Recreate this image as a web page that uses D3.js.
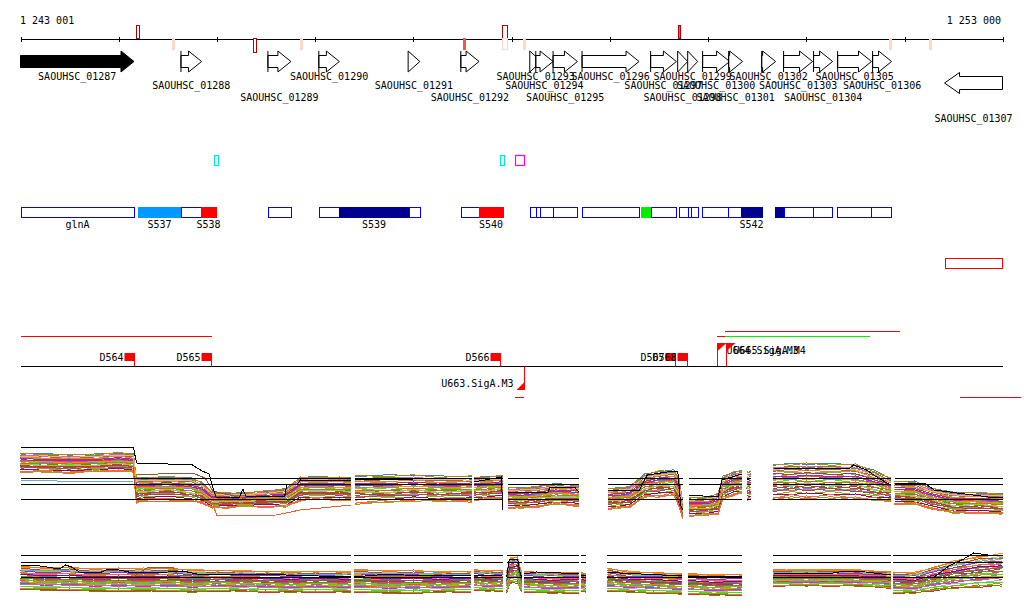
<!DOCTYPE html>
<html><head><meta charset="utf-8">
<script src="https://cdn.jsdelivr.net/npm/d3@7"></script>
<style>
html,body{margin:0;padding:0;background:#fff;}
text{font-family:"DejaVu Sans Mono",monospace;font-size:10px;fill:#000;}
</style></head>
<body><svg id="c" width="1024" height="611"></svg>
<script>
// ---------- DATA ----------
const genomeStart = 1243001, genomeEnd = 1253000;
const tickValues = [1243001,1244000,1245000,1246000,1247000,1248000,1249000,1250000,1251000,1252000,1253000];
const startLabel = "1 243 001", endLabel = "1 253 000";

// axis features: [pos, width(bp), side, kind]
const axisFeatures = [
  [1244179, 30, "up", "dark"],
  [1244542, 20, "down", "pale"],
  [1245366, 30, "down", "dark"],
  [1245844, 20, "down", "pale"],
  [1247502, 20, "down", "solid"],
  [1247902, 50, "up", "dark"],
  [1247902, 50, "down", "paleBox"],
  [1248116, 20, "down", "pale"],
  [1249692, 20, "up", "darkFill"],
  [1251838, 20, "down", "pale"],
  [1252245, 20, "down", "pale"]
];

const geneNames  = ["SAOUHSC_01287","SAOUHSC_01288","SAOUHSC_01289","SAOUHSC_01290","SAOUHSC_01291","SAOUHSC_01292","SAOUHSC_01293","SAOUHSC_01294","SAOUHSC_01295","SAOUHSC_01296","SAOUHSC_01297","SAOUHSC_01298","SAOUHSC_01299","SAOUHSC_01300","SAOUHSC_01301","SAOUHSC_01302","SAOUHSC_01303","SAOUHSC_01304","SAOUHSC_01305","SAOUHSC_01306","SAOUHSC_01307"];
const geneStarts = [1243001,1244634,1245519,1246037,1246946,1247482,1248184,1248245,1248421,1248716,1249414,1249689,1249791,1249943,1250208,1250544,1250767,1251072,1251317,1251673,1252405];
const geneEnds   = [1244156,1244844,1245753,1246246,1247065,1247668,1248303,1248421,1248669,1249296,1249676,1249791,1249893,1250218,1250350,1250686,1251062,1251266,1251662,1251866,1252995];
const geneStrand = ["+","+","+","+","+","+","+","+","+","+","+","+","+","+","+","+","+","+","+","+","-"];

// small boxes track: [start, end, color]
const boxFeatures = [
  [1244972, 1245012, "#00e5ee"],
  [1247886, 1247922, "#00e5ee"],
  [1248038, 1248125, "#ff00ff"]
];

// transcript segments
const segStarts = [1243001,1244196,1244634,1244840,1245519,1246040,1246244,1246950,1247485,1247672,1248184,1248245,1248285,1248421,1248713,1249320,1249414,1249699,1249794,1249821,1249940,1250205,1250333,1250676,1250767,1251065,1251314,1251652];
const segEnds   = [1244152,1244634,1244840,1244990,1245749,1246244,1246950,1247062,1247672,1247916,1248245,1248285,1248421,1248665,1249296,1249414,1249672,1249794,1249821,1249893,1250205,1250333,1250544,1250767,1251065,1251263,1251652,1251856];
const segFills  = ["#fff","#0099ff","#fff","#ff0000","#fff","#fff","#000090","#fff","#fff","#ff0000","#fff","#fff","#fff","#fff","#fff","#00ee00","#fff","#fff","#fff","#fff","#fff","#fff","#000090","#000090","#fff","#fff","#fff","#fff"];
const segLabels = ["glnA","S537","","S538","","","S539","","","S540","","","","","","","","","","","","","S542","","","","",""];
const redBox = [1252405, 1252988];

// horizontal feature lines: [start, end, row, color]
const hLines = [
  [1243001, 1244946, "b", "#ff0000"],
  [1250170, 1251954, "a", "#ff0000"],
  [1250166, 1251642, "b", "#00ee00"],
  [1250086, 1250166, "b", "#ff0000"],
  [1248031, 1248126, "c", "#ff0000"],
  [1252565, 1253180, "c", "#ff0000"]
];
const dNames = ["D564","D565","D566","D567","D568"];
const dPos   = [1244156,1244939,1247878,1249658,1249781];
const uNames = ["U664.SigA.M3","U665.SigA.M4","U663.SigA.M3"];
const uPos   = [1250089,1250177,1248126];
const uStrand= ["+","+","-"];

// lower panels: segments
const p1Segs = [[1243001,1246363],[1246404,1247594],[1247614,1247909],[1247960,1248682],[1248977,1249740],[1249801,1250340],[1250391,1250432],[1250655,1251856],[1251896,1252995]];
const p2Segs = [[1243001,1246363],[1246394,1247584],[1247614,1247909],[1247950,1248104],[1248128,1248680],[1248710,1248753],[1248974,1249737],[1249798,1250343],[1250658,1251856],[1251876,1252995]];
const p1Refs = [9.8, 8.6, 5.6];
const p2Refs = [9.0, 7.6, 4.6];

// profile knots: [pos, centre, half-spread]
const p1Profile = [
  [1243001,12.8,1.6],[1243250,12.8,1.6],[1243500,12.6,1.6],[1243750,12.8,1.5],[1244000,13.0,1.6],[1244150,12.8,1.6],
  [1244180,7.4,2.2],[1244250,7.6,2.0],[1244500,7.8,2.0],[1244750,7.4,2.0],[1244850,6.8,1.8],[1244950,5.4,1.4],
  [1245100,5.3,1.3],[1245250,5.4,1.2],[1245500,5.6,1.4],[1245700,5.8,1.6],[1245850,7.6,2.0],[1246000,7.8,2.0],[1246250,7.6,2.0],[1246363,7.6,2.0],
  [1246404,7.4,2.4],[1246750,7.6,2.4],[1247000,7.8,2.2],[1247250,7.6,2.2],[1247594,7.6,2.2],
  [1247614,7.6,2.0],[1247750,7.8,2.0],[1247909,8.0,2.0],
  [1247960,5.8,1.8],[1248100,5.8,1.8],[1248250,6.0,1.8],[1248450,6.6,1.8],[1248682,6.2,1.8],
  [1248977,5.6,1.8],[1249100,5.8,1.8],[1249200,6.0,1.8],[1249350,8.2,2.0],[1249500,8.6,2.2],[1249650,8.8,2.2],[1249700,7.0,2.4],[1249740,3.4,1.6],
  [1249801,4.0,1.6],[1250000,4.2,1.6],[1250100,4.6,1.8],[1250150,7.8,2.0],[1250250,8.6,2.0],[1250340,9.0,2.0],
  [1250391,8.2,2.4],[1250432,8.2,2.4],
  [1250655,9.0,3.0],[1250850,9.2,3.0],[1251000,9.2,3.0],[1251250,9.2,3.0],[1251500,9.0,3.0],[1251700,8.2,2.6],[1251856,7.4,2.0],
  [1251896,6.8,2.0],[1252100,6.8,2.0],[1252250,5.8,1.8],[1252500,4.8,1.8],[1252750,4.8,1.8],[1252995,4.6,1.8]
];
const p2Profile = [
  [1243001,4.4,2.0],[1243250,4.2,2.0],[1243500,4.2,2.0],[1243750,4.0,2.0],[1244000,4.0,2.0],[1244250,4.0,2.0],[1244500,4.0,2.0],
  [1244750,3.8,2.0],[1245000,3.8,1.8],[1245250,3.8,1.8],[1245500,3.6,1.8],[1245750,3.6,1.8],[1246000,3.6,1.8],[1246363,3.6,1.8],
  [1246394,3.8,2.0],[1246750,3.6,2.0],[1247000,3.6,2.0],[1247250,3.6,1.8],[1247584,3.6,1.8],
  [1247614,4.0,1.8],[1247750,3.8,1.8],[1247909,3.8,1.8],
  [1247950,3.6,1.8],[1247985,5.8,2.2],[1248060,6.0,2.2],[1248090,4.0,1.8],[1248104,3.6,1.6],
  [1248128,3.6,1.8],[1248400,3.4,1.8],[1248680,3.4,1.8],
  [1248710,3.6,1.6],[1248753,3.4,1.6],
  [1248974,4.0,2.0],[1249200,3.6,1.8],[1249450,3.4,1.8],[1249737,3.2,1.8],
  [1249798,3.2,1.8],[1250050,3.0,1.8],[1250343,3.0,1.8],
  [1250658,4.4,1.4],[1251000,4.4,1.4],[1251250,4.4,1.4],[1251500,4.4,1.4],[1251856,4.0,1.4],
  [1251876,3.4,1.8],[1252100,3.4,1.8],[1252300,4.2,2.0],[1252500,5.0,2.4],[1252750,5.6,2.6],[1252995,6.0,2.8]
];
// sample placement within the bundle (two alternating ranks per sample)
const rankA = [-1.2,-1.0,-0.85,-0.8,-0.6,-0.5,-0.45,-0.3,-0.25,-0.1,-0.05,0.0,0.15,0.2,0.3,0.35,0.5,0.55,0.7,0.75,0.9,1.0,1.1,1.2,-1.1,-0.15,0.4,0.8,-0.65,0.1];
const rankB = [-1.05,-1.15,-0.7,-0.9,-0.45,-0.65,-0.3,-0.5,-0.1,-0.3,0.1,-0.1,0.25,0.1,0.45,0.25,0.6,0.45,0.8,0.6,1.0,0.85,1.2,1.05,-0.9,-0.35,0.3,0.9,-0.5,0.2];
const sampleColors = ["#e8742a","#9aa020","#66cc00","#990077","#66aadd","#cc6699","#8b5a3c","#cc3333","#808000","#b8a8d0","#33ee00","#d2691e","#aa44aa","#5599cc","#c8a020","#e05050","#7cba3c","#b03060","#996655","#f08030","#6b8e23","#cc66cc","#4682b4","#b8860b","#ff6347","#9acd32","#8a2be2","#deb887","#a0522d","#ff8c00"];

// distinctive individual profiles
const p1Top = [[1243001,16],[1244150,16],[1244165,14.4],[1244185,12.8],[1244500,12.6],[1244750,12.4],[1244850,11.2],[1244920,10.6],[1244960,7.8],[1244990,6.0],[1245230,6.0],[1245264,7.6],[1245295,6.2],[1245690,6.2],[1245712,8.4],[1245820,8.6],[1245850,9.4],[1246363,9.2],
  [1246404,9.4],[1247000,9.6],[1247594,9.8],
  [1247614,9.0],[1247895,10.0],[1247909,3.4],
  [1247960,7.0],[1248370,7.0],[1248390,8.0],[1248640,8.0],[1248682,7.0],
  [1248977,7.4],[1249300,7.4],[1249380,10.4],[1249650,11.2],[1249690,11.2],[1249720,4.4],[1249740,3.4],
  [1249801,6.4],[1250100,6.0],[1250140,9.4],[1250340,10.6],
  [1250391,9.4],[1250432,9.8],
  [1250655,11.8],[1251430,11.6],[1251480,12.4],[1251610,11.4],[1251730,9.8],[1251856,8.4],
  [1251896,8.8],[1252200,8.8],[1252300,7.4],[1252850,6.0],[1252995,5.8]];
const p1Brown = [[1244185,10.4],[1244400,10.6],[1244750,10.8],[1244880,9.8],[1244960,7.2],[1245300,5.6],[1245700,4.8],[1245850,6.8],[1246363,6.6]];
const p1Low = [[1244185,5.2],[1244950,5.0],[1245000,2.2],[1245600,2.4],[1245850,3.4],[1246363,4.4]];
const p1Blue = [[1243001,9.4],[1243372,9.2],[1244150,9.2]];
const p2Top = [[1243001,7.0],[1243200,6.8],[1243400,6.2],[1243460,7.0],[1243520,6.6],[1243600,5.6],[1243800,5.4],[1243900,6.2],[1244000,6.0],[1244150,5.4],[1244500,5.6],[1244650,5.8],[1244800,5.2],[1245000,5.2],[1245700,5.0],[1246363,4.6],
  [1246394,4.6],[1246750,5.2],[1246900,5.0],[1247584,4.8],
  [1247614,4.8],[1247909,5.0],
  [1247950,4.6],[1247975,8.2],[1248060,8.2],[1248090,5.0],[1248104,4.6],
  [1248128,5.2],[1248250,5.6],[1248500,5.4],[1248680,5.2],
  [1248710,5.0],[1248753,5.0],
  [1248974,5.6],[1249100,5.4],[1249737,4.8],
  [1249798,4.8],[1250343,4.8],
  [1250658,5.4],[1251200,5.2],[1251400,5.8],[1251600,5.6],[1251856,5.0],
  [1251876,4.6],[1252300,4.6],[1252450,6.8],[1252600,8.2],[1252700,9.4],[1252850,9.0],[1252995,8.8]];
const p2Brown = [[1244150,4.6],[1244300,6.6],[1244550,6.6],[1244600,5.0],[1245000,4.4]];

// ---------- DRAW ----------
const svg = d3.select("#c");
const x = d3.scaleLinear().domain([genomeStart, genomeEnd]).range([20.5, 1003]);

const axY = 38.5;
svg.append("g").attr("transform",`translate(0,${axY})`)
  .call(d3.axisBottom(x).tickValues(tickValues).tickSize(3).tickSizeOuter(0).tickFormat(""))
  .call(g=>g.selectAll("line,path").attr("stroke","#000").attr("shape-rendering","crispEdges"));
svg.append("g").attr("transform",`translate(0,${axY})`)
  .call(d3.axisTop(x).tickValues(tickValues).tickSize(2).tickSizeOuter(0).tickFormat(""))
  .call(g=>g.select(".domain").remove())
  .call(g=>g.selectAll("line").attr("stroke","#000").attr("shape-rendering","crispEdges"));
svg.append("text").attr("x",20).attr("y",24).text(startLabel);
svg.append("text").attr("x",1001).attr("y",24).attr("text-anchor","end").text(endLabel);

axisFeatures.forEach(f=>{
  const x0 = Math.round(x(f[0])), w = Math.max(2, Math.round(x(f[0]+f[1]) - x(f[0])));
  let y0, h;
  if (f[2]==="up") { y0 = 25; h = 13; } else { y0 = 38; h = (f[3]==="dark"?14:11); }
  const r = svg.append("rect").attr("x",x0+0.5).attr("y",y0+0.5).attr("width",w).attr("height",h).attr("shape-rendering","crispEdges");
  if (f[3]==="dark") r.attr("fill","#fff").attr("stroke","#b00000");
  else if (f[3]==="darkFill") r.attr("fill","#e06060").attr("stroke","#b00000");
  else if (f[3]==="solid") r.attr("fill","#f05a3c").attr("stroke","#f05a3c");
  else if (f[3]==="paleBox") r.attr("fill","#fff").attr("stroke","#fbd8cc");
  else r.attr("fill","#fbd8cc").attr("stroke","#fbd8cc");
});

// genes
const rowBase = [79.5, 88.5, 100.5];
geneNames.forEach((name,i)=>{
  const x0 = x(geneStarts[i]), x1 = x(geneEnds[i]);
  const len = x1 - x0;
  const filled = i===0;
  const g = svg.append("g");
  let pts;
  if (geneStrand[i]==="+") {
    const yc = 61.5, hl = Math.min(13, len);
    const xh = x1 - hl;
    if (len <= 13) pts = [[x0,51],[x1,yc],[x0,72]];
    else pts = [[x0,55.5],[xh,55.5],[xh,51],[x1,yc],[xh,72],[xh,67.5],[x0,67.5]];
    g.append("polygon").attr("points",pts.map(p=>p.join(",")).join(" "))
      .attr("fill",filled?"#000":"#fff").attr("stroke","#000");
    if (!filled && len>13) g.append("line").attr("x1",x0).attr("x2",x0).attr("y1",51).attr("y2",72).attr("stroke","#000");
    g.append("text").attr("x",(x0+x1)/2).attr("y",rowBase[i%3]).attr("text-anchor","middle").text(name);
  } else {
    const yc = 83, hl = 15, xh = x0 + hl;
    pts = [[x1,76.5],[xh,76.5],[xh,72.5],[x0,yc],[xh,93.5],[xh,89.5],[x1,89.5]];
    g.append("polygon").attr("points",pts.map(p=>p.join(",")).join(" ")).attr("fill","#fff").attr("stroke","#000");
    g.append("text").attr("x",(x0+x1)/2).attr("y",121.5).attr("text-anchor","middle").text(name);
  }
});

boxFeatures.forEach(b=>{
  svg.append("rect").attr("x",Math.round(x(b[0]))+0.5).attr("y",155.5)
    .attr("width",Math.max(3,Math.round(x(b[1])-x(b[0])))).attr("height",10)
    .attr("fill","#fff").attr("stroke",b[2]).attr("stroke-width",1.2);
});

segStarts.forEach((s,i)=>{
  const x0 = Math.round(x(s)), x1 = Math.round(x(segEnds[i]));
  const white = segFills[i]==="#fff";
  svg.append("rect").attr("x",x0+0.5).attr("y",207.5).attr("width",x1-x0).attr("height",10)
    .attr("fill",segFills[i]).attr("stroke",white?"#0000ff":segFills[i]).attr("stroke-width",1)
    .attr("shape-rendering","crispEdges");
  if (segLabels[i]) svg.append("text").attr("x",(x0+x1)/2).attr("y",227.5).attr("text-anchor","middle").text(segLabels[i]);
});
svg.append("rect").attr("x",Math.round(x(redBox[0]))+0.5).attr("y",258.5)
  .attr("width",Math.round(x(redBox[1])-x(redBox[0]))).attr("height",10)
  .attr("fill","#fff").attr("stroke","#ff0000").attr("shape-rendering","crispEdges");

const rowY = {a:331.5, b:336.5, c:397.5};
hLines.forEach(l=>{
  svg.append("line").attr("x1",x(l[0])).attr("x2",x(l[1])).attr("y1",rowY[l[2]]).attr("y2",rowY[l[2]])
    .attr("stroke",l[3]).attr("shape-rendering","crispEdges");
});
const baseY = 366.5;
svg.append("line").attr("x1",x(genomeStart)).attr("x2",x(genomeEnd)).attr("y1",baseY).attr("y2",baseY)
  .attr("stroke","#000").attr("shape-rendering","crispEdges");
dNames.forEach((n,i)=>{
  const xl = Math.round(x(dPos[i]))+0.5;
  svg.append("line").attr("x1",xl).attr("x2",xl).attr("y1",353).attr("y2",baseY).attr("stroke","#ff0000");
  svg.append("rect").attr("x",xl-10).attr("y",353).attr("width",10).attr("height",8).attr("fill","#ff0000");
  svg.append("text").attr("x",xl-11).attr("y",361).attr("text-anchor","end").text(n);
});
uNames.forEach((n,i)=>{
  const xl = Math.round(x(uPos[i]))+0.5;
  if (uStrand[i]==="+") {
    svg.append("line").attr("x1",xl).attr("x2",xl).attr("y1",343).attr("y2",baseY).attr("stroke","#ff0000");
    svg.append("polygon").attr("points",`${xl},343 ${xl+9},343 ${xl},351`).attr("fill","#ff0000");
    svg.append("text").attr("x",xl+(i===0?9:7)).attr("y",354).text(n);
  } else {
    svg.append("line").attr("x1",xl).attr("x2",xl).attr("y1",baseY).attr("y2",390).attr("stroke","#ff0000");
    svg.append("polygon").attr("points",`${xl},390 ${xl-8},390 ${xl},382`).attr("fill","#ff0000");
    svg.append("text").attr("x",xl-11).attr("y",387).attr("text-anchor","end").text(n);
  }
});

// lower panels
function segIndex(segs, p){ return segs.findIndex(s=>p>=s[0]-1 && p<=s[1]+1); }
function splitBySeg(points, segs){
  const groups = {};
  points.forEach(p=>{ const k = segIndex(segs,p[0]); if(k<0) return; (groups[k]=groups[k]||[]).push(p); });
  return Object.values(groups);
}
function drawPanel(segs, refs, profile, y, extras, top, colorShift){
  const g = svg.append("g");
  const line = d3.line().x(d=>x(d[0])).y(d=>y(d[1]));
  const byseg = splitBySeg(profile, segs);
  rankA.forEach((ra,si)=>{
    const rb = rankB[si];
    const col = sampleColors[(si+colorShift)%sampleColors.length];
    byseg.forEach(knots=>{
      const pts = knots.map((k,i)=>[k[0], k[1] + k[2]*(i%2? rb: ra)]);
      g.append("path").attr("d",line(pts)).attr("fill","none").attr("stroke",col).attr("stroke-width",1)
        .attr("shape-rendering","crispEdges");
    });
  });
  extras.forEach(e=>{
    splitBySeg(e[0], segs).forEach(pts=>{
      g.append("path").attr("d",line(pts)).attr("fill","none").attr("stroke",e[1]).attr("shape-rendering","crispEdges");
    });
  });
  splitBySeg(top, segs).forEach(pts=>{
    g.append("path").attr("d",line(pts)).attr("fill","none").attr("stroke","#000").attr("shape-rendering","crispEdges");
  });
  segs.forEach(s=>{
    refs.forEach(r=>{
      g.append("line").attr("x1",x(s[0])).attr("x2",x(s[1])).attr("y1",Math.round(y(r))+0.5).attr("y2",Math.round(y(r))+0.5)
        .attr("stroke","#000").attr("shape-rendering","crispEdges");
    });
  });
}
const y1 = d3.scaleLinear().domain([0,16]).range([527,447]);
const y2 = d3.scaleLinear().domain([0,10]).range([600,550]);
drawPanel(p1Segs, p1Refs, p1Profile, y1, [[p1Brown,"#8b5a3c"],[p1Low,"#e0603a"],[p1Blue,"#66aadd"]], p1Top, 0);
drawPanel(p2Segs, p2Refs, p2Profile, y2, [[p2Brown,"#8b5a3c"]], p2Top, 7);
</script></body></html>
